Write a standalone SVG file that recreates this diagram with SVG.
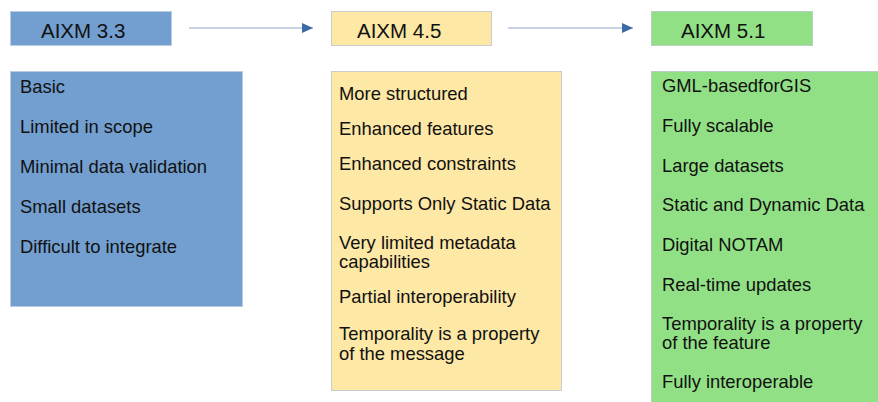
<svg xmlns="http://www.w3.org/2000/svg" width="878" height="402" viewBox="0 0 878 402">
<style>
text{font-family:"Liberation Sans",Arial,sans-serif;fill:#111;}
.h{font-size:20.5px;}
.t{font-size:18.4px;}
.blue{fill:#729fcf;stroke:#b8cce4;stroke-width:1;}
.yel{fill:#fde8a6;stroke:#c9ccd0;stroke-width:1;}
.grn{fill:#91e085;stroke:#b9cfc0;stroke-width:1;}
.conn{stroke:#8eaacb;stroke-width:1.2;fill:none;}
</style>
<defs>
<marker id="ah" markerWidth="12" markerHeight="10" refX="11" refY="5" orient="auto" markerUnits="userSpaceOnUse">
<path d="M0,0 L11,5 L0,10 Z" fill="#3a6aa8"/>
</marker>
</defs>
<rect width="878" height="402" fill="#ffffff"/>
<g id="connectors">
<line class="conn" x1="189" y1="28" x2="313" y2="28" marker-end="url(#ah)"/>
<line class="conn" x1="508" y1="28" x2="633" y2="28" marker-end="url(#ah)"/>
</g>
<g id="h33"><rect class="blue" x="10.5" y="11.5" width="161" height="34"/><text class="h" x="41" y="38">AIXM 3.3</text></g>
<g id="h45"><rect class="yel" x="331.5" y="11.5" width="160" height="34"/><text class="h" x="357" y="38">AIXM 4.5</text></g>
<g id="h51"><rect class="grn" x="651.5" y="11.5" width="161" height="34"/><text class="h" x="681" y="38">AIXM 5.1</text></g>
<g id="b33">
<rect class="blue" x="10.5" y="71.5" width="232" height="235"/>
<text class="t" x="20" y="93">Basic</text>
<text class="t" x="20" y="133">Limited in scope</text>
<text class="t" x="20" y="173">Minimal data validation</text>
<text class="t" x="20" y="213">Small datasets</text>
<text class="t" x="20" y="253">Difficult to integrate</text>
</g>
<g id="b45">
<rect class="yel" x="331.5" y="71.5" width="230" height="319"/>
<text class="t" x="339" y="99.5">More structured</text>
<text class="t" x="339" y="134.5">Enhanced features</text>
<text class="t" x="339" y="169.5">Enhanced constraints</text>
<text class="t" x="339" y="210">Supports Only Static Data</text>
<text class="t" x="339" y="249">Very limited metadata</text>
<text class="t" x="339" y="268">capabilities</text>
<text class="t" x="339" y="303">Partial interoperability</text>
<text class="t" x="339" y="339.5">Temporality is a property</text>
<text class="t" x="339" y="359.5">of the message</text>
</g>
<g id="b51">
<rect class="grn" x="651.5" y="71.5" width="240" height="340"/>
<text class="t" x="662" y="92">GML-basedforGIS</text>
<text class="t" x="662" y="131.5">Fully scalable</text>
<text class="t" x="662" y="171.5">Large datasets</text>
<text class="t" x="662" y="211">Static and Dynamic Data</text>
<text class="t" x="662" y="251">Digital NOTAM</text>
<text class="t" x="662" y="291">Real-time updates</text>
<text class="t" x="662" y="330">Temporality is a property</text>
<text class="t" x="662" y="349">of the feature</text>
<text class="t" x="662" y="387.5">Fully interoperable</text>
</g>
</svg>
